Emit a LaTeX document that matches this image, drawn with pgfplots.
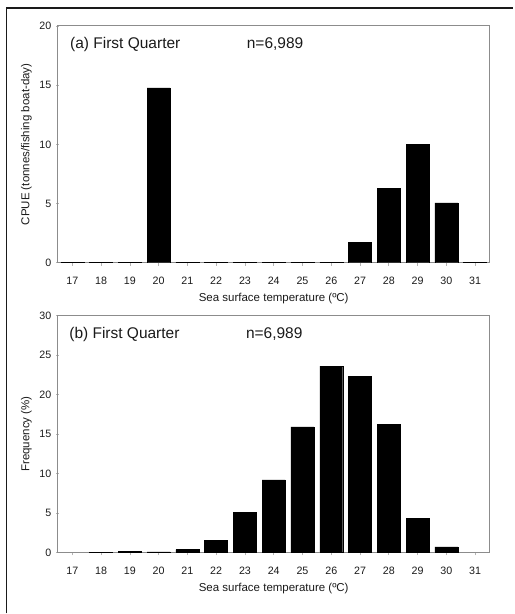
\documentclass[border=0pt]{standalone}
\usepackage{pgfplots}
\pgfplotsset{compat=1.18}
\usepackage{fontspec}
\setmainfont{Liberation Sans}
\definecolor{axgray}{HTML}{8C8C8C}
\definecolor{tickgray}{HTML}{B4B4B4}
\definecolor{txt}{HTML}{1A1A1A}
\pgfplotsset{
  myax/.style={
    scale only axis, width=432pt, height=237pt,
    xmin=16.5, xmax=31.5, ymin=0,
    xtick={17,...,31},
    axis line style={axgray, line width=1pt},
    tick style={tickgray, line width=0.7pt},
    tick align=center, major tick length=3pt,
    xtick pos=bottom, ytick pos=left,
    /pgf/number format/assume math mode=true,
    tick label style={font=\fontsize{10.7}{12}\selectfont, text=txt},
    xticklabel style={anchor=base, inner sep=0pt, yshift=-18.7pt},
    yticklabel style={anchor=east, inner sep=0pt, xshift=-5pt},
    label style={font=\fontsize{11.5}{13}\selectfont, text=txt},
    xlabel style={at={(axis description cs:0.5,-0.1633)}, anchor=base, inner sep=0pt},
    ylabel style={at={(axis description cs:-0.0602,0.5)}, anchor=south, inner sep=0pt},
    xlabel={Sea surface temperature (ºC)},
    ybar, bar width=23pt,
  }
}
\begin{document}
\begin{tikzpicture}
\path (0pt,0pt) rectangle (514pt,614pt);
\draw[line width=1.3pt, txt] (6.5pt,0pt) -- (6.5pt,606pt) -- (514pt,606pt);
\begin{axis}[myax, at={(58pt,351pt)}, anchor=south west,
  ymax=20, ytick={0,5,10,15,20},
  ylabel={CPUE (tonnes/fishing boat-day)}]
\addplot[fill=black, draw=black, line width=0.4pt] coordinates {(17,0.05) (18,0.05) (19,0.05) (20,14.78) (21,0.05) (22,0.05) (23,0.05) (24,0.05) (25,0.05) (26,0.05) (27,1.7) (28,6.3) (29,10.0) (30,5.05) (31,0.05)};
\node[anchor=base west, font=\fontsize{15.5}{18}\selectfont, text=txt, inner sep=0pt] at (axis cs:16.92,18.08) {(a) First Quarter};
\node[anchor=base west, font=\fontsize{15.5}{18}\selectfont, text=txt, inner sep=0pt] at (axis cs:23.06,18.08) {n=6,989};
\end{axis}
\begin{axis}[myax, at={(58pt,61pt)}, anchor=south west,
  ymax=30, ytick={0,5,10,15,20,25,30},
  ylabel={Frequency (\%)}]
\addplot[fill=black, draw=black, line width=0.4pt] coordinates {(18,0.05) (19,0.1) (20,0.08) (21,0.35) (22,1.55) (23,5.1) (24,9.2) (25,15.9) (26,23.6) (27,22.3) (28,16.2) (29,4.35) (30,0.7)};
\node[anchor=base west, font=\fontsize{15.5}{18}\selectfont, text=txt, inner sep=0pt] at (axis cs:16.89,27.13) {(b) First Quarter};
\node[anchor=base west, font=\fontsize{15.5}{18}\selectfont, text=txt, inner sep=0pt] at (axis cs:23.03,27.13) {n=6,989};
\end{axis}
\end{tikzpicture}
\end{document}
